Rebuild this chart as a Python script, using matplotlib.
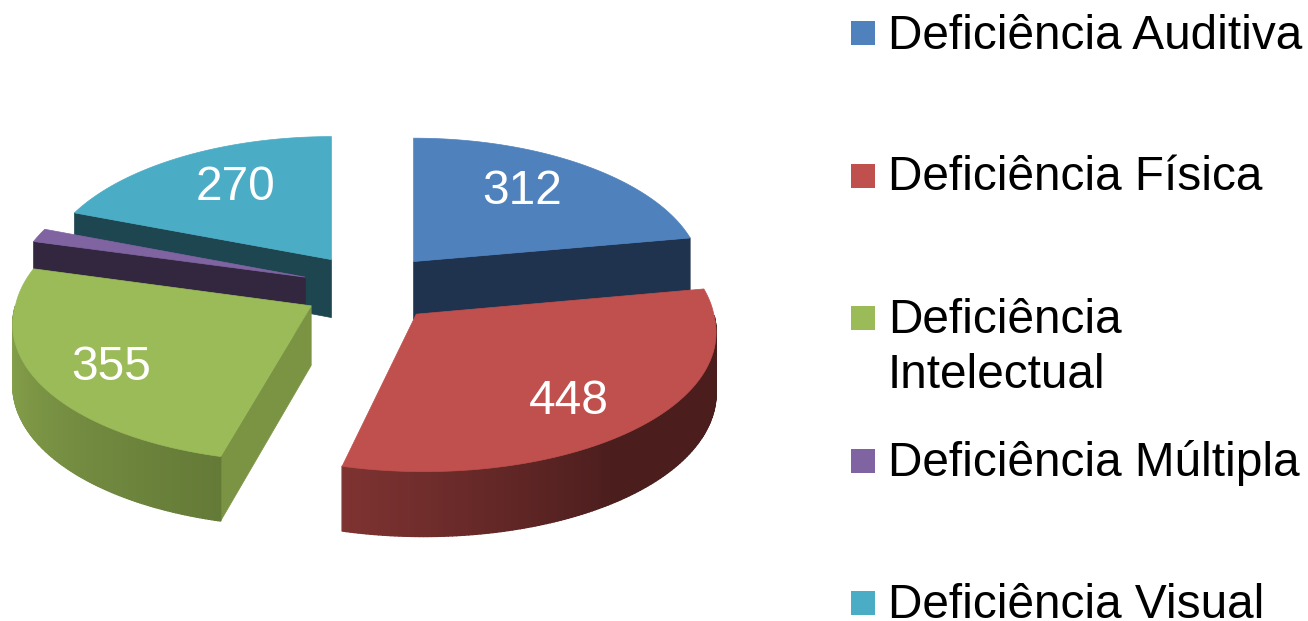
import numpy as np
import matplotlib
matplotlib.use('Agg')
import matplotlib.pyplot as plt
from matplotlib.collections import PolyCollection
from matplotlib.colors import to_rgb
from matplotlib.patches import Polygon, Rectangle

plt.rcParams['font.family'] = ['Liberation Sans', 'DejaVu Sans']

categories = ['Deficiência Auditiva', 'Deficiência Física', 'Deficiência\nIntelectual',
              'Deficiência Múltipla', 'Deficiência Visual']
values = [312, 448, 355, 22, 270]
show_label = [True, True, True, False, True]

top_colors = ['#4f81bd', '#c0504d', '#9bbb59', '#8064a2', '#4bacc6']
side_colors = ['#1f334f', '#4d1e1e', '#7a9444', '#33273f', '#1e4650']
wall_left = ['#1f334f', '#7e3331', '#8aa64e', '#33273f', '#1e4650']
wall_right = ['#1f334f', '#4b1d1d', '#647a37', '#33273f', '#1e4650']

label_pos = [(522, 192), (569, 402), (111, 367), None, (236, 188)]
legend_base = [49, 190, 333, 476, 618]
swatch_y = [33, 176, 318, 461, 603]

# pie geometry, in pixels of the output
CX, CY = 370, 288
EXPLODE = 0.25
START = 90


def project(ox, oy, lx, ly, z=0.0):
    # ox, oy is the slice offset, lx, ly a point on the unit circle
    y = oy + ly
    sx = CX + 272 * ox - 45 * ox * min(ly, 0) + lx * (292 - 30 * y)
    sy = CY - y * (140.5 - 12.4 * y)
    return sx, sy + z * (59 - 5 * y)


fig = plt.figure(figsize=(13.08, 6.21), dpi=100)
ax = fig.add_axes([0, 0, 1, 1])
ax.set_xlim(0, 1308)
ax.set_ylim(621, 0)
ax.axis('off')

angles = np.array(values) / sum(values) * 360
ends = START - np.cumsum(angles)
starts = ends + angles

# painter's order: back slices first
for i in [4, 0, 3, 2, 1]:
    a0, a1 = starts[i], ends[i]
    mid = np.radians((a0 + a1) / 2)
    ox, oy = EXPLODE * np.cos(mid), EXPLODE * np.sin(mid)
    th = np.radians(np.linspace(a0, a1, 160))
    lx, ly = np.cos(th), np.sin(th)

    # radial faces that look to the viewer
    for t, facing in ((a0, np.cos(np.radians(a0)) < -1e-6), (a1, np.cos(np.radians(a1)) > 1e-6)):
        if facing:
            r = np.radians(t)
            ex, ey = np.cos(r), np.sin(r)
            quad = [project(ox, oy, 0, 0), project(ox, oy, ex, ey),
                    project(ox, oy, ex, ey, 1), project(ox, oy, 0, 0, 1)]
            ax.add_patch(Polygon(quad, closed=True, fc=side_colors[i], ec=side_colors[i], lw=0.5))

    # outer wall with the shading across it
    vis = ly < 0
    if vis.sum() > 1:
        order = np.argsort(lx[vis])
        tx, ty = lx[vis][order], ly[vis][order]
        c0, c1 = np.array(to_rgb(wall_left[i])), np.array(to_rgb(wall_right[i]))
        polys, cols = [], []
        for k in range(len(tx) - 1):
            polys.append([project(ox, oy, tx[k], ty[k]), project(ox, oy, tx[k + 1], ty[k + 1]),
                          project(ox, oy, tx[k + 1], ty[k + 1], 1), project(ox, oy, tx[k], ty[k], 1)])
            f = min(1, k / (len(tx) - 2) * (2.0 if i == 1 else 1.0))
            cols.append(c0 + (c1 - c0) * f)
        ax.add_collection(PolyCollection(polys, facecolors=cols, edgecolors=cols, linewidths=1.0))

    # top of the slice
    top = [project(ox, oy, 0, 0)] + [project(ox, oy, x, y) for x, y in zip(lx, ly)]
    ax.add_patch(Polygon(top, closed=True, fc=top_colors[i], ec=top_colors[i], lw=0.5))

for i, pos in enumerate(label_pos):
    if show_label[i]:
        ax.text(pos[0], pos[1], str(values[i]), color='white', fontsize=34.5, ha='center', va='center')

for i, name in enumerate(categories):
    ax.add_patch(Rectangle((851, swatch_y[i] - 12), 24, 24, fc=top_colors[i], ec='none'))
    for j, line in enumerate(name.split('\n')):
        ax.text(888, legend_base[i] + 55 * j, line, color='black', fontsize=34.4, ha='left', va='baseline')

fig.savefig('out.png', dpi=100)
